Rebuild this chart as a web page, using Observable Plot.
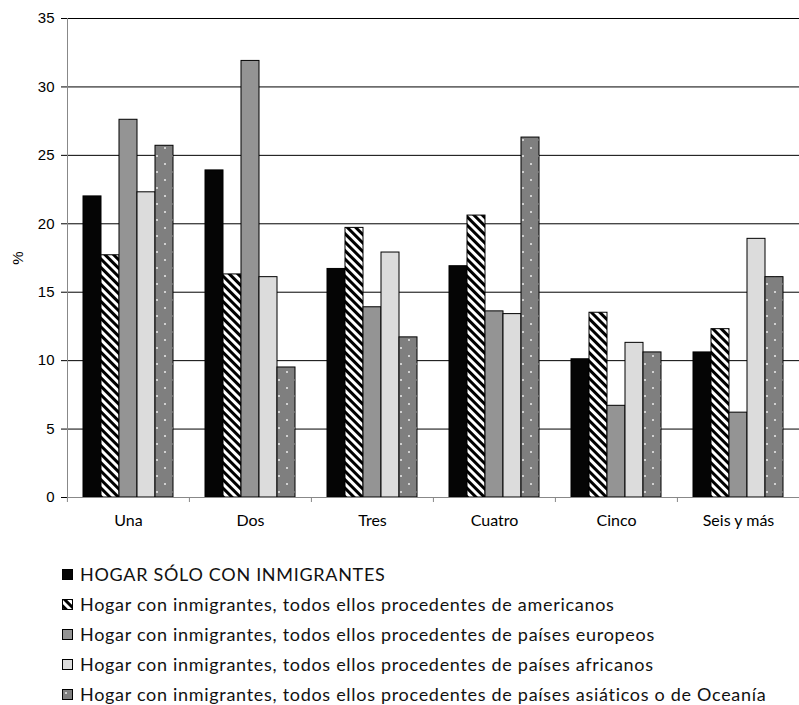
<!DOCTYPE html>
<html><head><meta charset="utf-8">
<script src="https://cdn.jsdelivr.net/npm/d3@7"></script>
<script src="https://cdn.jsdelivr.net/npm/@observablehq/plot@0.6"></script>
<style>
html,body{margin:0;padding:0;background:#fff;}
#legend{padding-top:19px;font-family:Lato,"Open Sans",sans-serif;font-size:18px;letter-spacing:0.7px;color:#111;}
#legend .item{height:30px;line-height:30px;display:flex;align-items:center;padding-left:62px;white-space:nowrap;}
#legend svg{margin-right:7px;flex:none;}
</style></head><body>
<svg width="0" height="0" style="position:absolute">
<defs>
<pattern id="hatch" patternUnits="userSpaceOnUse" width="6" height="6" patternTransform="rotate(-45)">
<rect width="6" height="6" fill="#fff"/><rect width="3" height="6" fill="#000"/>
</pattern>
<pattern id="dots" patternUnits="userSpaceOnUse" width="16" height="16">
<rect width="16" height="16" fill="#7f7f7f"/><circle cx="4" cy="4" r="1" fill="#fff" fill-opacity="0.85"/><circle cx="12" cy="12" r="1" fill="#fff" fill-opacity="0.85"/>
</pattern>
</defs></svg>
<div id="chart"></div>
<div id="legend"></div>
<script>
const categories = ["Una", "Dos", "Tres", "Cuatro", "Cinco", "Seis y más"];
const series = [
  "HOGAR SÓLO CON INMIGRANTES",
  "Hogar con inmigrantes, todos ellos procedentes de americanos",
  "Hogar con inmigrantes, todos ellos procedentes de países europeos",
  "Hogar con inmigrantes, todos ellos procedentes de países africanos",
  "Hogar con inmigrantes, todos ellos procedentes de países asiáticos o de Oceanía"
];
const vSolo       = [22.0, 23.9, 16.7, 16.9, 10.1, 10.6];
const vAmericanos = [17.7, 16.3, 19.7, 20.6, 13.5, 12.3];
const vEuropeos   = [27.6, 31.9, 13.9, 13.6,  6.7,  6.2];
const vAfricanos  = [22.3, 16.1, 17.9, 13.4, 11.3, 18.9];
const vAsiaticos  = [25.7,  9.5, 11.7, 26.3, 10.6, 16.1];
const yTicks = [0, 5, 10, 15, 20, 25, 30, 35];
const fills = ["#050505", "url(#hatch)", "#949494", "#dcdcdc", "url(#dots)"];

const values = [vSolo, vAmericanos, vEuropeos, vAfricanos, vAsiaticos];
const data = categories.flatMap((c, i) => series.map((s, j) => ({cat: c, series: s, value: values[j][i]})));

const W = 799, ML = 66, MR = 0;
const step = (W - ML - MR) / categories.length;

const chart = Plot.plot({
  width: W, height: 540,
  marginLeft: ML, marginRight: MR, marginTop: 18, marginBottom: 43,
  style: {fontFamily: "'Liberation Sans', Arial, sans-serif", fontSize: "13px", color: "#000", background: "#fff"},
  fx: {domain: categories, padding: 0, label: null, axis: null},
  x: {domain: series, paddingInner: 0, paddingOuter: 0.76, axis: null},
  y: {domain: [0, 35], axis: null},
  color: {type: "ordinal", domain: series, range: fills},
  marks: [
    Plot.ruleY(yTicks.filter(t => t > 0), {stroke: "#000", strokeWidth: 1}),
    Plot.barY(data, {fx: "cat", x: "series", y: "value", fill: "series", stroke: "#000", strokeWidth: 1}),
    Plot.ruleY([0], {stroke: "#888"}),
    Plot.frame({anchor: "left", stroke: "#888", facetAnchor: "left"}),
    Plot.axisY({ticks: yTicks, tickSize: 6, tickPadding: 7, label: "%", labelAnchor: "center", labelOffset: 55, labelArrow: "none", fontSize: 15}),
    Plot.axisFx({anchor: "bottom", tickSize: 0, tickPadding: 17, label: null, fontFamily: "Lato, sans-serif", fontSize: 16}),
    Plot.axisFx({anchor: "bottom", tickSize: 5, tickFormat: () => "", label: null, dx: -step / 2, stroke: "#888"})
  ]
});
document.getElementById("chart").appendChild(chart);

const legend = document.getElementById("legend");
series.forEach((s, j) => {
  const item = document.createElement("div");
  item.className = "item";
  item.innerHTML = `<svg width="11" height="11"><rect x="0.5" y="0.5" width="10" height="10" fill="${fills[j]}" stroke="#000" stroke-width="1"/></svg><span>${s}</span>`;
  legend.appendChild(item);
});
</script>
</body></html>
